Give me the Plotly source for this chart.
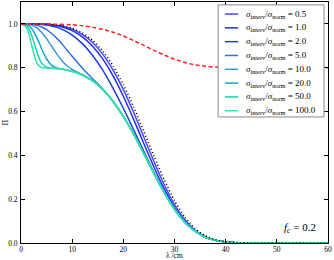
import plotly.graph_objects as go

# wavelength grid (cm)
LAMBDA = [0, 1, 1.5, 2, 2.5, 3, 3.5, 4, 5, 6, 7, 8, 9, 10, 12, 14, 16, 18, 20,
          22, 24, 26, 28, 30, 32, 34, 36, 38, 40, 43, 46, 50, 60]

RATIOS = [0.5, 1.0, 2.0, 5.0, 10.0, 20.0, 50.0, 100.0]

PI_R0_5 = [1.000, 1.000, 1.000, 1.000, 1.000, 1.000, 1.000, 0.999, 0.999, 0.996, 0.993,
           0.990, 0.984, 0.976, 0.952, 0.915, 0.861, 0.789, 0.700, 0.597, 0.484, 0.371,
           0.266, 0.176, 0.107, 0.059, 0.029, 0.013, 0.005, 0.001, 0.000, 0.000, 0.000]
PI_R1 = [1.000, 1.000, 1.000, 1.000, 1.000, 1.000, 1.000, 0.998, 0.998, 0.995, 0.991,
         0.986, 0.979, 0.969, 0.941, 0.898, 0.839, 0.763, 0.670, 0.565, 0.454, 0.346,
         0.247, 0.163, 0.099, 0.055, 0.027, 0.012, 0.005, 0.001, 0.000, 0.000, 0.000]
PI_R2 = [1.000, 1.000, 1.000, 1.000, 1.000, 0.999, 0.999, 0.997, 0.995, 0.990, 0.984,
         0.975, 0.964, 0.949, 0.910, 0.856, 0.788, 0.706, 0.615, 0.518, 0.418, 0.321,
         0.232, 0.155, 0.095, 0.054, 0.026, 0.012, 0.005, 0.001, 0.000, 0.000, 0.000]
PI_R5 = [1.000, 1.000, 0.999, 0.998, 0.997, 0.994, 0.991, 0.986, 0.974, 0.956, 0.934,
         0.909, 0.880, 0.852, 0.798, 0.750, 0.703, 0.646, 0.578, 0.498, 0.408, 0.317,
         0.230, 0.154, 0.095, 0.054, 0.026, 0.012, 0.005, 0.001, 0.000, 0.000, 0.000]
PI_R10 = [1.000, 0.999, 0.998, 0.995, 0.990, 0.984, 0.974, 0.962, 0.933, 0.898, 0.863,
          0.832, 0.809, 0.792, 0.768, 0.740, 0.701, 0.646, 0.578, 0.498, 0.408, 0.317,
          0.230, 0.154, 0.095, 0.054, 0.026, 0.012, 0.005, 0.001, 0.000, 0.000, 0.000]
PI_R20 = [1.000, 0.997, 0.992, 0.981, 0.964, 0.942, 0.917, 0.888, 0.841, 0.811, 0.799,
          0.794, 0.790, 0.784, 0.767, 0.740, 0.701, 0.646, 0.578, 0.498, 0.408, 0.317,
          0.230, 0.154, 0.095, 0.054, 0.026, 0.012, 0.005, 0.001, 0.000, 0.000, 0.000]
PI_R50 = [1.000, 0.993, 0.979, 0.953, 0.918, 0.881, 0.847, 0.822, 0.802, 0.798, 0.796,
          0.794, 0.790, 0.784, 0.767, 0.740, 0.701, 0.646, 0.578, 0.498, 0.408, 0.317,
          0.230, 0.154, 0.095, 0.054, 0.026, 0.012, 0.005, 0.001, 0.000, 0.000, 0.000]
PI_R100 = [1.000, 0.986, 0.957, 0.912, 0.865, 0.828, 0.809, 0.801, 0.799, 0.798, 0.796,
           0.794, 0.790, 0.784, 0.767, 0.740, 0.701, 0.646, 0.578, 0.498, 0.408, 0.317,
           0.230, 0.154, 0.095, 0.054, 0.026, 0.012, 0.005, 0.001, 0.000, 0.000, 0.000]

# black dotted reference curve
PI_REF = [1.000, 1.000, 1.000, 1.000, 1.000, 1.000, 1.000, 0.999, 0.999, 0.997, 0.995,
          0.992, 0.987, 0.980, 0.959, 0.925, 0.876, 0.808, 0.723, 0.622, 0.510, 0.396,
          0.288, 0.193, 0.119, 0.067, 0.033, 0.015, 0.006, 0.001, 0.000, 0.000, 0.000]
# red dashed curve
PI_RED = [1.000, 1.000, 1.000, 1.000, 1.000, 1.000, 1.000, 1.000, 1.000, 0.999, 0.999,
          0.998, 0.997, 0.996, 0.992, 0.985, 0.975, 0.962, 0.945, 0.924, 0.902, 0.879,
          0.858, 0.839, 0.824, 0.813, 0.807, 0.803, 0.801, 0.800, 0.800, 0.800, 0.800]

F_C_LABEL = "0.2"
X_TICKS = [0, 10, 20, 30, 40, 50, 60]
Y_TICKS = [0.0, 0.2, 0.4, 0.6, 0.8, 1.0]

COLORS = ["#4646ff", "#1e2ef0", "#1a40e0", "#2f72e0", "#3f98dc",
          "#14a8c8", "#1ad0b0", "#34e6a6"]

SERIES = [PI_R0_5, PI_R1, PI_R2, PI_R5, PI_R10, PI_R20, PI_R50, PI_R100]

SERIF = "Liberation Serif, DejaVu Serif, serif"

fig = go.Figure()
for ys, col in zip(SERIES, COLORS):
    fig.add_trace(go.Scatter(x=LAMBDA, y=ys, mode="lines",
                             line=dict(color=col, width=1.5, shape="spline", smoothing=0.6),
                             showlegend=False, hoverinfo="skip"))
fig.add_trace(go.Scatter(x=LAMBDA, y=PI_REF, mode="lines",
                         line=dict(color="black", width=1.5, dash="1px,2.5px",
                                   shape="spline", smoothing=0.6),
                         showlegend=False, hoverinfo="skip"))
fig.add_trace(go.Scatter(x=LAMBDA, y=PI_RED, mode="lines",
                         line=dict(color="#ff2020", width=1.5, dash="4px,2.5px",
                                   shape="spline", smoothing=0.6),
                         showlegend=False, hoverinfo="skip"))

shapes = [dict(type="rect", xref="paper", yref="paper", x0=0.642, x1=0.987,
               y0=0.523, y1=0.988, layer="above", fillcolor="white",
               line=dict(color="#888888", width=1))]
annotations = []
for i, (r, col) in enumerate(zip(RATIOS, COLORS)):
    yy = 0.950 - 0.0573 * i
    shapes.append(dict(type="line", xref="paper", yref="paper", x0=0.664, x1=0.707,
                       y0=yy, y1=yy, layer="above", line=dict(color=col, width=1.5)))
    annotations.append(dict(xref="paper", yref="paper", x=0.728, y=yy, xanchor="left",
                            yanchor="middle", showarrow=False,
                            text=f"<i>σ</i><sub>interv</sub>/<i>σ</i><sub>norm</sub> = {r:.1f}",
                            font=dict(family=SERIF, size=9, color="black")))

annotations.append(dict(xref="x", yref="y", x=54.5, y=0.068, showarrow=False,
                        text=f"<i>f</i><sub><i>c</i></sub> = {F_C_LABEL}",
                        font=dict(family=SERIF, size=11, color="black")))
annotations.append(dict(xref="paper", yref="paper", x=0.5, y=-0.074, showarrow=False,
                        yanchor="bottom", text="λ /cm", borderpad=0,
                        font=dict(family=SERIF, size=7.5, color="black")))
annotations.append(dict(xref="paper", yref="paper", x=-0.052, y=0.5, showarrow=False,
                        xanchor="center", textangle=-90, text="Π",
                        font=dict(family=SERIF, size=8, color="black")))

axis_common = dict(showline=True, linecolor="black", linewidth=1, mirror="ticks",
                   ticks="inside", ticklen=4, tickwidth=1, tickcolor="black",
                   showgrid=False, zeroline=False, automargin=False,
                   tickfont=dict(family=SERIF, size=7.5, color="black"))

fig.update_layout(
    width=334, height=260,
    margin=dict(l=21, r=6, t=2, b=17, autoexpand=False),
    paper_bgcolor="white", plot_bgcolor="white",
    xaxis=dict(range=[0, 60], tickvals=X_TICKS, ticktext=[str(v) for v in X_TICKS],
               ticklabelstandoff=-1, **axis_common),
    yaxis=dict(range=[0, 1.1], tickvals=Y_TICKS, ticktext=[f"{v:.1f}" for v in Y_TICKS],
               ticklabelstandoff=1, **axis_common),
    shapes=shapes, annotations=annotations, showlegend=False,
)

fig.write_html("out.html", config={"displayModeBar": False, "staticPlot": True},
               post_script="document.body.style.margin='0';document.body.style.overflow='hidden';")
